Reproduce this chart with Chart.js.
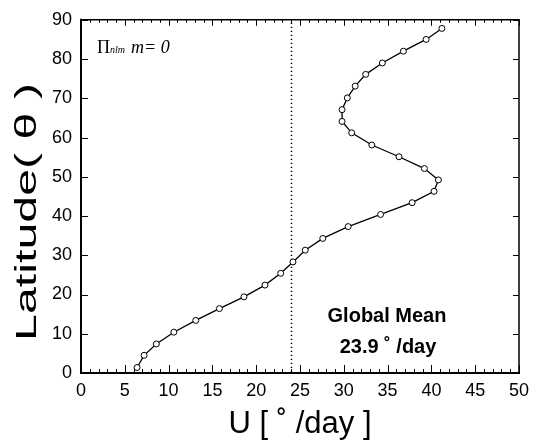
<!DOCTYPE html>
<html>
<head>
<meta charset="utf-8">
<script src="https://cdn.jsdelivr.net/npm/chart.js@4/dist/chart.umd.min.js"></script>
<style>
html,body{margin:0;padding:0;background:#fff;}
#wrap{width:546px;height:441px;position:relative;}
</style>
</head>
<body>
<div id="wrap"><canvas id="c" width="546" height="441"></canvas></div>
<script>
// Data
const latitude = [1.4, 4.5, 7.4, 10.4, 13.4, 16.4, 19.4, 22.4, 25.4, 28.3, 31.3, 34.3, 37.3, 40.4, 43.4, 46.3, 49.2, 52.1, 55.1, 58.1, 61.2, 64.1, 67.1, 70.1, 73.1, 76.1, 79.0, 82.0, 85.0, 87.8];
const uSpeed   = [6.4, 7.2, 8.6, 10.6, 13.1, 15.8, 18.6, 21.0, 22.8, 24.2, 25.6, 27.6, 30.5, 34.2, 37.8, 40.3, 40.8, 39.2, 36.3, 33.2, 30.9, 29.8, 29.8, 30.4, 31.3, 32.5, 34.4, 36.8, 39.4, 41.2];
const globalMean = 24;
const xTickLabels = [0, 5, 10, 15, 20, 25, 30, 35, 40, 45, 50];
const yTickLabels = [0, 10, 20, 30, 40, 50, 60, 70, 80, 90];
const xTitle = 'U [ ˚ /day ]';
const yTitle = 'Latitude( θ )';
const noteLines = ['Global Mean', '23.9 ˚ /day'];

const points = uSpeed.map((u, i) => ({x: u, y: latitude[i]}));

const framePlugin = {
  id: 'frame',
  beforeDatasetsDraw(chart) {
    const {ctx, chartArea: a, scales: {x}} = chart;
    ctx.save();
    ctx.strokeStyle = '#000';
    ctx.lineWidth = 1.5;
    ctx.setLineDash([1.3, 2.7]);
    const gx = Math.round(x.getPixelForValue(globalMean)) + 0.5;
    ctx.beginPath();
    ctx.moveTo(gx, a.top + 3);
    ctx.lineTo(gx, a.bottom);
    ctx.stroke();
    ctx.restore();
  },
  afterDraw(chart) {
    const {ctx, chartArea: a, scales: {x, y}} = chart;
    ctx.save();
    ctx.strokeStyle = '#000';
    ctx.lineWidth = 1.5;
    ctx.beginPath();
    ctx.moveTo(a.left, a.top); ctx.lineTo(a.right, a.top); ctx.lineTo(a.right, a.bottom);
    ctx.stroke();
    ctx.lineWidth = 2;
    ctx.beginPath();
    ctx.moveTo(a.left, a.top - 1); ctx.lineTo(a.left, a.bottom); ctx.lineTo(a.right + 1, a.bottom);
    ctx.stroke();
    ctx.lineWidth = 1;
    ctx.beginPath();
    for (let v = 0; v <= 50; v++) {
      const px = Math.round(x.getPixelForValue(v)) + 0.5;
      const major = v % 5 === 0;
      ctx.moveTo(px, a.bottom); ctx.lineTo(px, a.bottom - (major ? 8 : 4));
      ctx.moveTo(px, a.top); ctx.lineTo(px, a.top + (major ? 6 : 3));
    }
    for (let v = 0; v <= 90; v += 10) {
      const py = Math.round(y.getPixelForValue(v)) + 0.5;
      ctx.moveTo(a.left, py); ctx.lineTo(a.left + 7, py);
      ctx.moveTo(a.right, py); ctx.lineTo(a.right - 6, py);
    }
    ctx.stroke();

    ctx.fillStyle = '#000';
    ctx.font = '31px "Liberation Sans", Arial, sans-serif';
    ctx.textAlign = 'center';
    ctx.textBaseline = 'alphabetic';
    ctx.fillText(xTitle, (a.left + a.right) / 2, 433);

    ctx.save();
    ctx.font = '30px "Liberation Sans", Arial, sans-serif';
    ctx.translate(36, 212);
    ctx.rotate(-Math.PI / 2);
    const w = ctx.measureText(yTitle).width;
    ctx.scale(258 / w, 1);
    ctx.fillText(yTitle, 0, 0);
    ctx.restore();

    ctx.font = 'bold 20px "Liberation Sans", Arial, sans-serif';
    ctx.textBaseline = 'middle';
    ctx.fillText(noteLines[0], 387, 316);
    ctx.fillText(noteLines[1], 388, 347);

    ctx.textAlign = 'left';
    ctx.textBaseline = 'alphabetic';
    ctx.font = '18px "Liberation Serif", "Times New Roman", serif';
    ctx.fillText('Π', 97, 53);
    ctx.font = 'italic 10px "Liberation Serif", "Times New Roman", serif';
    ctx.fillText('nlm', 110, 53);
    ctx.font = 'italic 18px "Liberation Serif", "Times New Roman", serif';
    ctx.fillText('m= 0', 131, 53);
    ctx.restore();
  }
};

new Chart(document.getElementById('c'), {
  type: 'scatter',
  data: {
    datasets: [{
      data: points,
      showLine: true,
      borderColor: '#000',
      borderWidth: 1.3,
      pointRadius: 3,
      pointBorderWidth: 1,
      pointBorderColor: '#000',
      pointBackgroundColor: '#fff',
      tension: 0
    }]
  },
  options: {
    responsive: false,
    animation: false,
    devicePixelRatio: 1,
    layout: {padding: {top: 14, right: 27, left: 0, bottom: 0}},
    plugins: {legend: {display: false}, tooltip: {enabled: false}},
    scales: {
      x: {
        type: 'linear', min: 0, max: 50,
        afterFit(s) { s.height = 68; },
        grid: {display: false, drawTicks: false},
        border: {display: false},
        afterBuildTicks(s) { s.ticks = xTickLabels.map(v => ({value: v})); },
        ticks: {padding: 7, color: '#000', maxRotation: 0, autoSkip: false,
          font: {family: '"Liberation Sans", Arial, sans-serif', size: 18}}
      },
      y: {
        type: 'linear', min: 0, max: 90,
        afterFit(s) { s.width = 81; },
        grid: {display: false, drawTicks: false},
        border: {display: false},
        afterBuildTicks(s) { s.ticks = yTickLabels.map(v => ({value: v})); },
        ticks: {padding: 9, color: '#000', autoSkip: false,
          font: {family: '"Liberation Sans", Arial, sans-serif', size: 18}}
      }
    }
  },
  plugins: [framePlugin]
});
</script>
</body>
</html>
